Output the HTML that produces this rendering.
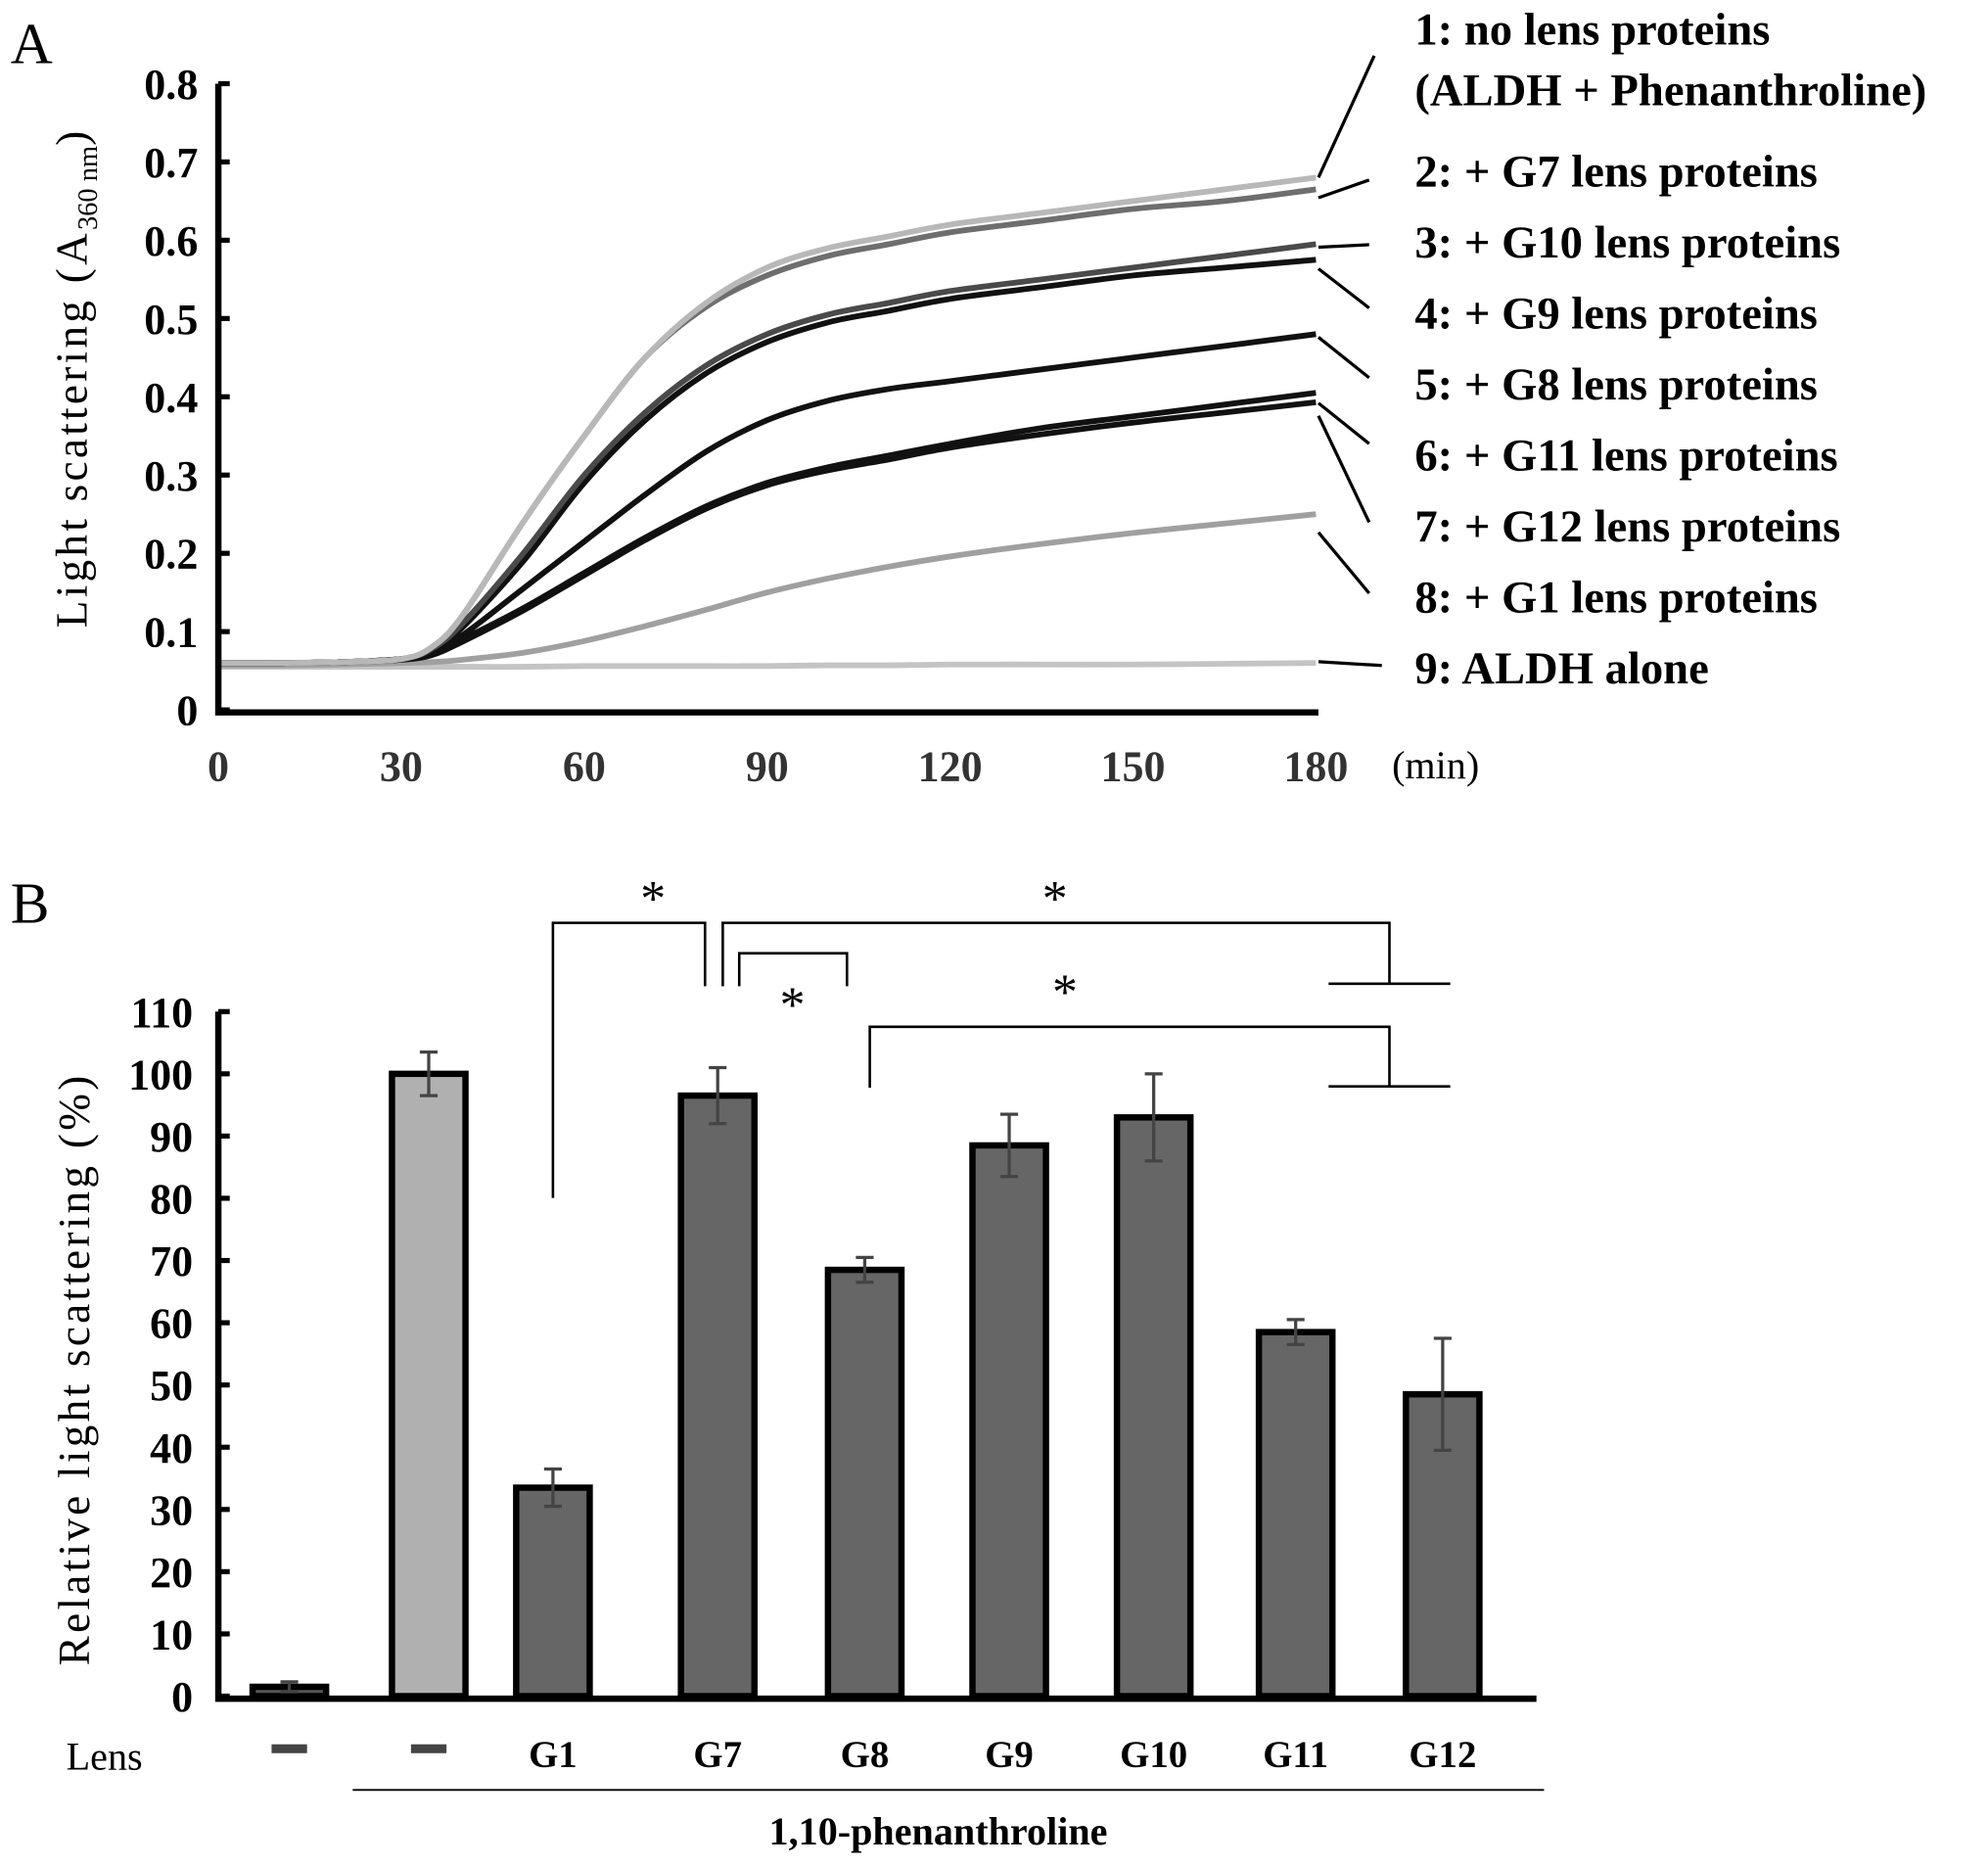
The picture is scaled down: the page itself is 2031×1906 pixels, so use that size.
<!DOCTYPE html>
<html><head><meta charset="utf-8"><style>
html,body{margin:0;padding:0;background:#fff}
svg{display:block}
text{font-family:"Liberation Serif",serif}
.b{font-weight:bold}
</style></head><body>
<svg id="fig" width="2031" height="1906" viewBox="0 0 1568 1472" xmlns="http://www.w3.org/2000/svg">
<text x="8" y="50" font-size="46">A</text>
<text x="8" y="728" font-size="46">B</text>
<text transform="translate(68,298) rotate(-90)" text-anchor="middle" font-size="35" letter-spacing="2.5">Light  scattering  (A<tspan font-size="22" dy="8" letter-spacing="0">360 nm</tspan><tspan dy="-8">)</tspan></text>
<text transform="translate(70,1080) rotate(-90)" text-anchor="middle" font-size="35" letter-spacing="2.5">Relative  light  scattering  (%)</text>
<g id="gA"></g>
<g id="gB"></g>
</svg>
<script>
const NS="http://www.w3.org/2000/svg";
function mk(p,tag,attrs){const e=document.createElementNS(NS,tag);for(const k in attrs)e.setAttribute(k,attrs[k]);p.appendChild(e);return e;}
function smooth(pts){let d="M"+pts[0][0].toFixed(1)+","+pts[0][1].toFixed(1);
  for(let i=0;i<pts.length-1;i++){const p0=pts[Math.max(0,i-1)],p1=pts[i],p2=pts[i+1],p3=pts[Math.min(pts.length-1,i+2)];
    const c1=[p1[0]+(p2[0]-p0[0])/6,p1[1]+(p2[1]-p0[1])/6],c2=[p2[0]-(p3[0]-p1[0])/6,p2[1]-(p3[1]-p1[1])/6];
    d+=`C${c1[0].toFixed(1)},${c1[1].toFixed(1)} ${c2[0].toFixed(1)},${c2[1].toFixed(1)} ${p2[0].toFixed(1)},${p2[1].toFixed(1)}`;}
  return d;}
// ---------- Panel A data ----------
const times=[0,10,20,30,35,40,50,60,70,80,90,100,110,120,135,150,165,180];
const s1=[0.06,0.06,0.061,0.065,0.08,0.12,0.24,0.35,0.45,0.52,0.565,0.59,0.605,0.62,0.635,0.65,0.665,0.68];
const s2=[0.06,0.06,0.061,0.065,0.08,0.12,0.24,0.35,0.45,0.515,0.555,0.58,0.595,0.61,0.625,0.64,0.65,0.665];
const s3=[0.06,0.06,0.061,0.065,0.078,0.11,0.2,0.3,0.38,0.44,0.48,0.505,0.52,0.535,0.55,0.565,0.58,0.595];
const s4=[0.06,0.06,0.061,0.065,0.076,0.105,0.19,0.29,0.37,0.43,0.47,0.495,0.51,0.525,0.54,0.555,0.565,0.575];
const s5=[0.06,0.06,0.061,0.065,0.074,0.095,0.155,0.215,0.275,0.33,0.37,0.395,0.41,0.42,0.435,0.45,0.465,0.48];
const s6=[0.06,0.06,0.061,0.065,0.072,0.09,0.13,0.175,0.22,0.26,0.29,0.31,0.325,0.34,0.36,0.375,0.39,0.405];
const s7=[0.06,0.06,0.061,0.064,0.07,0.087,0.127,0.172,0.217,0.257,0.287,0.306,0.32,0.335,0.352,0.367,0.38,0.393];
const s8=[0.057,0.057,0.058,0.06,0.061,0.064,0.073,0.088,0.107,0.128,0.15,0.168,0.183,0.196,0.212,0.226,0.238,0.25];
const s9=[0.055,0.055,0.055,0.055,0.055,0.055,0.055,0.056,0.056,0.056,0.056,0.057,0.057,0.058,0.058,0.058,0.059,0.06];
const seriesA=[s1,s2,s3,s4,s5,s6,s7,s8,s9];
const colorsA=["#b8b8b8","#6e6e6e","#4a4a4a","#111","#111","#111","#111","#a0a0a0","#c4c4c4"];
const legendA=["1: no lens proteins","2: + G7 lens proteins","3: + G10 lens proteins","4: + G9 lens proteins","5: + G8 lens proteins","6: + G11  lens proteins","7: + G12 lens proteins","8: + G1 lens proteins","9: ALDH alone"];
const yTicksA=[0,0.1,0.2,0.3,0.4,0.5,0.6,0.7,0.8];
const xTicksA=[0,30,60,90,120,150,180];
const xA=t=>172+t/180*866, yA=v=>560-v/0.8*494;
const gA=document.getElementById("gA");
for(let i=seriesA.length-1;i>=0;i--){
  const pts=seriesA[i].map((v,j)=>[xA(times[j]),yA(v)]);
  const p=mk(gA,"path",{d:smooth(pts),fill:"none",stroke:colorsA[i],"stroke-width":4.5,"stroke-linejoin":"round"});
  
  
}
const axA=mk(gA,"path",{d:"M172,66 L172,562 L1040,562",fill:"none",stroke:"#000","stroke-width":5});


yTicksA.forEach(v=>{
  mk(gA,"line",{x1:172,x2:181,y1:yA(v),y2:yA(v),stroke:"#000","stroke-width":4});
  const t=mk(gA,"text",{x:156,y:yA(v)+12,"text-anchor":"end","font-size":34,"class":"b"});t.textContent=String(v);
  
  
});
xTicksA.forEach(v=>{
  const t=mk(gA,"text",{x:xA(v),y:616,"text-anchor":"middle","font-size":34,"class":"b",fill:"#333"});t.textContent=String(v);
  
  
});
{const t=mk(gA,"text",{x:1098,y:614,"font-size":31});t.textContent="(min)";

}
const legY=[35,147,203,259,315,371,427,483,539];
const leaders=[[1040,140,1084,44],[1040,156,1080,142],[1040,195,1080,193],[1040,212,1080,243],[1040,266,1080,298],[1040,318,1080,350],[1040,328,1080,412],[1040,420,1080,468],[1040,522,1090,525]];
legendA.forEach((s,i)=>{
  const t=mk(gA,"text",{x:1116,y:legY[i],"font-size":36,"class":"b"});t.textContent=s;
  
  
  const l=leaders[i];
  const ln=mk(gA,"line",{x1:l[0],y1:l[1],x2:l[2],y2:l[3],stroke:"#000","stroke-width":2.5});
  
  
});
{const t=mk(gA,"text",{x:1116,y:83,"font-size":36,"class":"b"});t.textContent="(ALDH + Phenanthroline)";

}

// ---------- Panel B data ----------
const cats=["","","G1","G7","G8","G9","G10","G11","G12"];
const vals=[1.5,100,33.5,96.5,68.5,88.5,93,58.5,48.5];
const errs=[0.8,3.5,3,4.5,2,5,7,2,9];
const fills=["#555","#b0b0b0","#666","#666","#666","#666","#666","#666","#666"];
const yTicksB=[0,10,20,30,40,50,60,70,80,90,100,110];
const xB=i=>[228,338,436,566,682,796,910,1022,1138][i];
const yB=v=>1338-v/110*540;
const gB=document.getElementById("gB");
vals.forEach((v,i)=>{
  const w=58,x=xB(i)-w/2;
  const r=mk(gB,"rect",{x:x,y:yB(v),width:w,height:1338-yB(v),fill:fills[i],stroke:"#000","stroke-width":5});
  
  
  const e=mk(gB,"path",{d:`M${xB(i)},${yB(v+errs[i])}V${yB(v-errs[i])}M${xB(i)-7},${yB(v+errs[i])}h14M${xB(i)-7},${yB(v-errs[i])}h14`,stroke:"#444","stroke-width":2.5,fill:"none"});
  
  
  if(cats[i]){
    const t=mk(gB,"text",{x:xB(i),y:1394,"text-anchor":"middle","font-size":30,"class":"b"});t.textContent=cats[i];
    
    
  } else {
    const d=mk(gB,"rect",{x:xB(i)-14,y:1376,width:28,height:7,fill:"#444"});
    
    
  }
});
const axB=mk(gB,"path",{d:"M172,798 L172,1340 L1212,1340",fill:"none",stroke:"#000","stroke-width":5});


yTicksB.forEach(v=>{
  mk(gB,"line",{x1:172,x2:181,y1:yB(v),y2:yB(v),stroke:"#000","stroke-width":4});
  const t=mk(gB,"text",{x:152,y:yB(v)+12,"text-anchor":"end","font-size":34,"class":"b"});t.textContent=String(v);
  
  
});
{const t=mk(gB,"text",{x:52,y:1396,"font-size":31});t.textContent="Lens";
}
{const l=mk(gB,"line",{x1:278,x2:1218,y1:1412,y2:1412,stroke:"#000","stroke-width":1.5});
}
{const t=mk(gB,"text",{x:740,y:1455,"text-anchor":"middle","font-size":31,"class":"b"});t.textContent="1,10-phenanthroline";
}
const brk=["M436,945 V728 H556 V778","M570,778 V728 H1096 V776 M1048,776 H1144","M583,778 V752 H668 V778","M686,858 V810 H1096 V857 M1048,857 H1144"];
brk.forEach((d,i)=>{const p=mk(gB,"path",{d:d,fill:"none",stroke:"#000","stroke-width":2});
});
[[515,722],[832,722],[625,806],[840,796]].forEach(s=>{const t=mk(gB,"text",{x:s[0],y:s[1],"text-anchor":"middle","font-size":40});t.textContent="*";
});
</script>
</body></html>
